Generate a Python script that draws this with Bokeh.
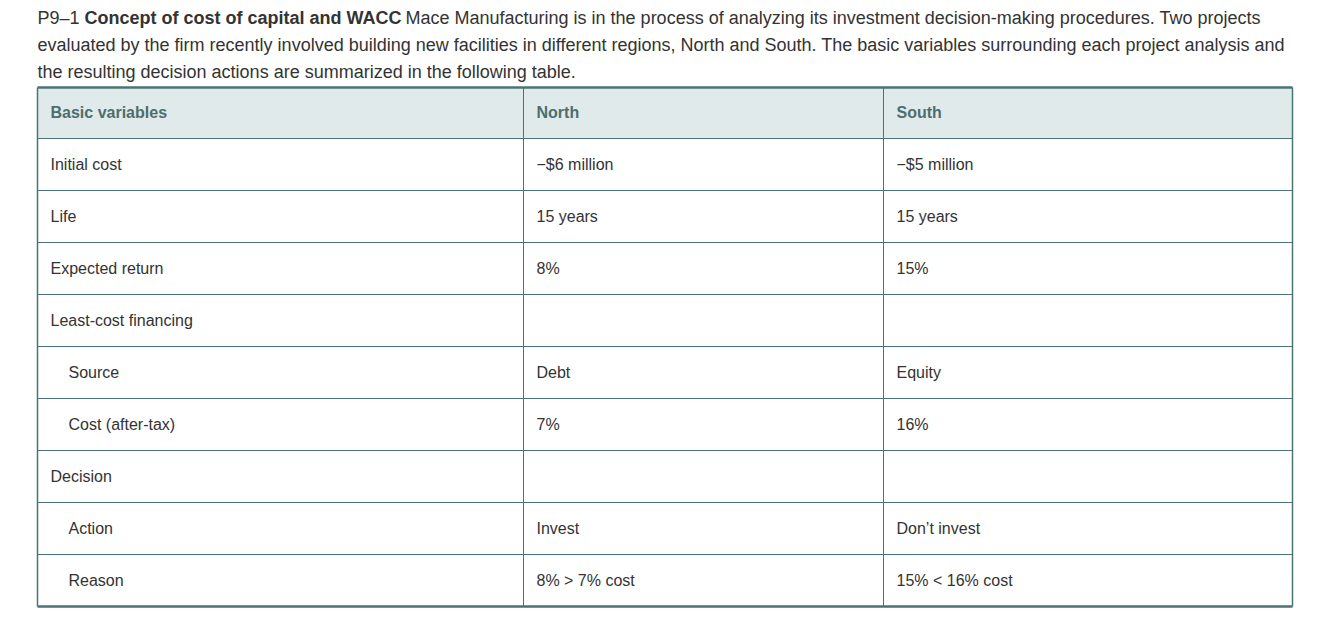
from bokeh.plotting import figure
from bokeh.models import ColumnDataSource, Range1d
from bokeh.core.properties import value
from bokeh.embed import file_html
from bokeh.resources import INLINE

# ---- data ----
intro_prefix = "P9\u20131 "
intro_bold = "Concept of cost of capital and WACC"
intro_line1_rest = "Mace Manufacturing is in the process of analyzing its investment decision-making procedures. Two projects"
intro_line2 = "evaluated by the firm recently involved building new facilities in different regions, North and South. The basic variables surrounding each project analysis and"
intro_line3 = "the resulting decision actions are summarized in the following table."

headers = ["Basic variables", "North", "South"]
row_labels = ["Initial cost", "Life", "Expected return", "Least-cost financing",
              "Source", "Cost (after-tax)", "Decision", "Action", "Reason"]
row_indent = [0, 0, 0, 0, 1, 1, 0, 1, 1]
north = ["\u2212$6 million", "15 years", "8%", "", "Debt", "7%", "", "Invest", "8% > 7% cost"]
south = ["\u2212$5 million", "15 years", "15%", "", "Equity", "16%", "", "Don\u2019t invest", "15% < 16% cost"]

# ---- layout (pixel space of the page) ----
W, H = 1320, 614
FONT = value("Liberation Sans")
TEXT = "#333333"
TEAL = "#4a7474"
HEAD_TXT = "#4d6e6e"
HEAD_BG = "#e1eaea"

col_edges = [37, 523, 883, 1292]
pad = 13
indent_px = 18
top = 87
head_h = 51
row_h = 52

p = figure(width=W, height=H, output_backend="svg", toolbar_location=None,
           x_range=Range1d(0, W), y_range=Range1d(H, 0),
           x_axis_type=None, y_axis_type=None, min_border=0,
           background_fill_color="white", border_fill_color="white")
p.grid.visible = False
p.outline_line_color = None

# intro paragraph
p.text(x=[37], y=[17], text=[intro_prefix], text_font=FONT, text_font_size="18px",
       text_color=TEXT, text_baseline="middle")
p.text(x=[84], y=[17], text=[intro_bold], text_font=FONT, text_font_size="18px",
       text_font_style="bold", text_color=TEXT, text_baseline="middle")
p.text(x=[405], y=[17], text=[intro_line1_rest], text_font=FONT, text_font_size="18px",
       text_color=TEXT, text_baseline="middle")
p.text(x=[37, 37], y=[44, 71], text=[intro_line2, intro_line3], text_font=FONT,
       text_font_size="18px", text_color=TEXT, text_baseline="middle")

# header background
n = len(row_labels)
bottom = top + head_h + n * row_h
p.quad(left=[col_edges[0]], right=[col_edges[-1]], top=[top], bottom=[top + head_h],
       fill_color=HEAD_BG, line_color=None)

# grid lines
row_lines = [top + head_h + i * row_h for i in range(n)]
p.segment(x0=[col_edges[0]] * n, x1=[col_edges[-1]] * n, y0=row_lines, y1=row_lines,
          line_color=TEAL, line_width=1)
p.segment(x0=col_edges[1:-1], x1=col_edges[1:-1], y0=[top] * 2, y1=[bottom] * 2,
          line_color=TEAL, line_width=1)
# outer border
p.segment(x0=[col_edges[0], col_edges[0]], x1=[col_edges[-1], col_edges[-1]],
          y0=[top, bottom], y1=[top, bottom], line_color=TEAL, line_width=2.5)
p.segment(x0=[col_edges[0], col_edges[-1]], x1=[col_edges[0], col_edges[-1]],
          y0=[top, top], y1=[bottom, bottom], line_color=TEAL, line_width=1.5)

# header text
p.text(x=[c + pad for c in col_edges[:3]], y=[top + head_h / 2 - 1] * 3, text=headers,
       text_font=FONT, text_font_size="16px", text_font_style="bold",
       text_color=HEAD_TXT, text_baseline="middle")

# body text
ys = [top + head_h + i * row_h + row_h / 2 for i in range(n)]
xs, yy, tt = [], [], []
for i in range(n):
    xs += [col_edges[0] + pad + indent_px * row_indent[i], col_edges[1] + pad, col_edges[2] + pad]
    yy += [ys[i]] * 3
    tt += [row_labels[i], north[i], south[i]]
src = ColumnDataSource(dict(x=xs, y=yy, text=tt))
p.text(x="x", y="y", text="text", source=src, text_font=FONT, text_font_size="16px",
       text_color=TEXT, text_baseline="middle")

open("out.html", "w").write(file_html(p, INLINE))
